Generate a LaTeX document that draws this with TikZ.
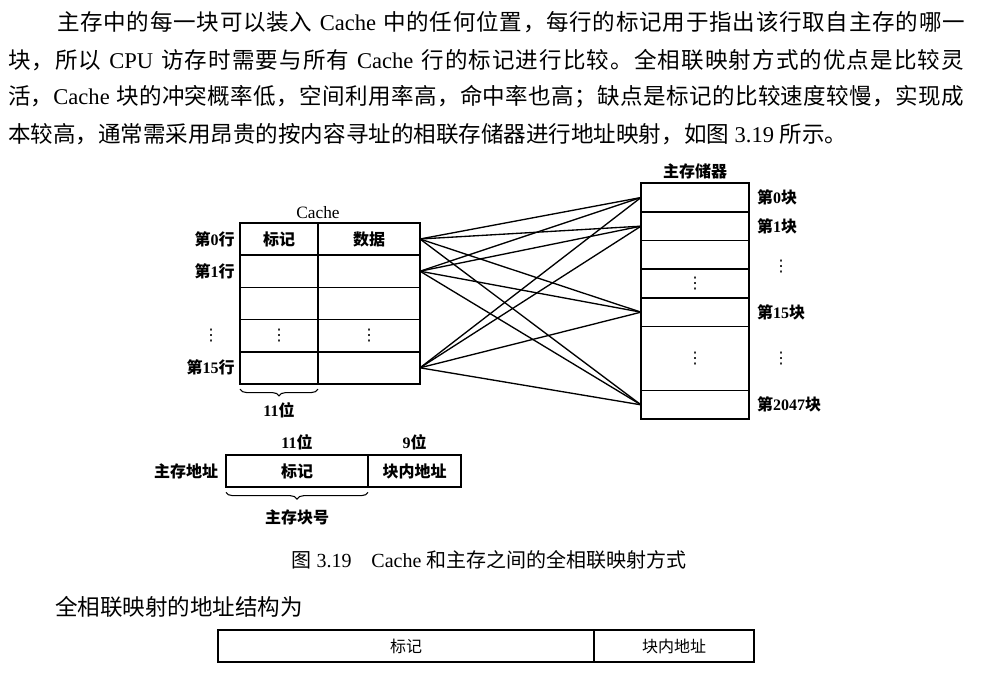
\documentclass[tikz,border=0pt]{standalone}
\usepackage{fontspec}
\setmainfont{Liberation Serif}
\newfontfamily\cjk{Noto Sans CJK SC}
\newfontfamily\symfont{DejaVu Sans}
\usetikzlibrary{positioning}
\usetikzlibrary{decorations.pathreplacing}

%% switch to the CJK family for Han characters and CJK punctuation
\XeTeXinterchartokenstate=1
\newXeTeXintercharclass\hanclass
\newcount\hancode
\hancode="4E00
\loop\XeTeXcharclass\hancode=\hanclass\advance\hancode by 1 \ifnum\hancode<"A000 \repeat
\hancode="3000
\loop\XeTeXcharclass\hancode=\hanclass\advance\hancode by 1 \ifnum\hancode<"3040 \repeat
\hancode="FF00
\loop\XeTeXcharclass\hancode=\hanclass\advance\hancode by 1 \ifnum\hancode<"FFF0 \repeat
\XeTeXinterchartoks 0 \hanclass={\cjk}
\XeTeXinterchartoks 4095 \hanclass={\cjk}
\XeTeXinterchartoks \hanclass 0={\rmfamily}
\XeTeXinterchartoks \hanclass 4095={\rmfamily}
\XeTeXinterchartoks \hanclass \hanclass={\hskip 0pt plus 1pt}

\newcommand{\parafont}{\fontsize{16.9}{20}\selectfont}
\newcommand{\vdotmark}{{\symfont\mdseries ⋮}}

\begin{document}
\begin{tikzpicture}
[x=0.75pt,y=-0.75pt,
  every node/.style={inner sep=0pt,outer sep=0pt},
  lbl/.style={font=\fontsize{12}{14}\selectfont\bfseries},
  cell/.style={draw,line width=1.2pt,minimum height=24.15pt,lbl},
  tagcell/.style={cell,minimum width=58.5pt},
  datacell/.style={cell,minimum width=76.5pt},
  blk/.style={draw,line width=1.2pt,minimum width=81pt,minimum height=21.5pt,lbl},
  addr/.style={draw,line width=1.2pt,minimum height=24pt,lbl},
  fmt/.style={draw,line width=0.9pt,minimum height=24pt,font=\fontsize{12}{14}\selectfont},
  map/.style={line width=1pt},
  brace/.style={decorate,decoration={brace,amplitude=5pt,mirror},line width=0.8pt}]
\useasboundingbox (0,0) rectangle (981,675);
%% paragraph
\node[anchor=west,font=\parafont] (p1) at (57,22)
  {\makebox[681pt][s]{主存中的每一块可以装入 Cache 中的任何位置，每行的标记用于指出该行取自主存的哪一}};
\node[anchor=west,font=\parafont] (p2) at (8,60)
  {\makebox[717pt][s]{块，所以 CPU 访存时需要与所有 Cache 行的标记进行比较。全相联映射方式的优点是比较灵}};
\node[anchor=west,font=\parafont] (p3) at (8,97)
  {\makebox[717pt][s]{活，Cache 块的冲突概率低，空间利用率高，命中率也高；缺点是标记的比较速度较慢，实现成}};
\node[anchor=west,font=\parafont] (p4) at (8,134)
  {本较高，通常需采用昂贵的按内容寻址的相联存储器进行地址映射，如图 3.19 所示。};
%% cache lines
\node[tagcell] (t0) at (279,239) {标记};
\node[datacell,right=0pt of t0] (d0) {数据};
\node[tagcell,below=0pt of t0] (t1) {};
\node[datacell,right=0pt of t1] (d1) {};
\node[tagcell,below=0pt of t1] (t2) {};
\node[datacell,right=0pt of t2] (d2) {};
\node[tagcell,below=0pt of t2] (t3) {\vdotmark};
\node[datacell,right=0pt of t3] (d3) {\vdotmark};
\node[tagcell,below=0pt of t3] (t4) {};
\node[datacell,right=0pt of t4] (d4) {};
\node[font=\fontsize{13}{15}\selectfont,above=3pt of t0.north east] (cache) {Cache};
\node[lbl,left=4pt of t0] (r0) {第0行};
\node[lbl,left=4pt of t1] (r1) {第1行};
\node[lbl] (r3) at (211,336) {\vdotmark};
\node[lbl,left=4pt of t4] (r4) {第15行};
\draw[brace] ([yshift=-4pt]t4.south west) -- ([yshift=-4pt]t4.south east);
\node[lbl,below=14pt of t4] (tagbits) {11位};
%% main memory blocks
\node[blk] (m0) at (695,197.5) {};
\node[blk,below=0pt of m0] (m1) {};
\node[blk,below=0pt of m1] (m2) {};
\node[blk,below=0pt of m2] (m3) {\vdotmark};
\node[blk,below=0pt of m3] (m4) {};
\node[blk,below=0pt of m4,minimum height=48pt] (m5) {\vdotmark};
\node[blk,below=0pt of m5] (m6) {};
\node[lbl,above=3pt of m0] (mem) {主存储器};
\node[lbl,right=6pt of m0] (b0) {第0块};
\node[lbl,right=6pt of m1] (b1) {第1块};
\node[lbl] (b2) at (781,267) {\vdotmark};
\node[lbl,right=6pt of m4] (b15) {第15块};
\node[lbl] (b5) at (781,359) {\vdotmark};
\node[lbl,right=6pt of m6] (b2047) {第2047块};
%% mapping: any line may hold any block
\path[map]
(d0.east) edge (m0.west)
(d0.east) edge (m1.west)
(d0.east) edge (m4.west)
(d0.east) edge (m6.west)
(d1.east) edge (m0.west)
(d1.east) edge (m1.west)
(d1.east) edge (m4.west)
(d1.east) edge (m6.west)
(d4.east) edge (m0.west)
(d4.east) edge (m1.west)
(d4.east) edge (m4.west)
(d4.east) edge (m6.west);
%% main memory address
\node[addr,minimum width=106.5pt] (a1) at (297,471) {标记};
\node[addr,minimum width=69.75pt,right=0pt of a1] (a2) {块内地址};
\node[lbl,left=6pt of a1] (alabel) {主存地址};
\node[lbl,above=4pt of a1] (abits1) {11位};
\node[lbl,above=4pt of a2] (abits2) {9位};
\draw[brace] ([yshift=-4pt]a1.south west) -- ([yshift=-4pt]a1.south east);
\node[lbl,below=17pt of a1] (blockno) {主存块号};
%% caption and address format
\node[font=\fontsize{15}{18}\selectfont] (caption) at (489,560)
  {图 3.19\quad Cache 和主存之间的全相联映射方式};
\node[anchor=west,font=\parafont] (intro) at (55,607) {全相联映射的地址结构为};
\node[fmt,minimum width=282pt] (f1) at (406,646) {标记};
\node[fmt,minimum width=120pt,right=0pt of f1] (f2) {块内地址};
\end{tikzpicture}
\end{document}
